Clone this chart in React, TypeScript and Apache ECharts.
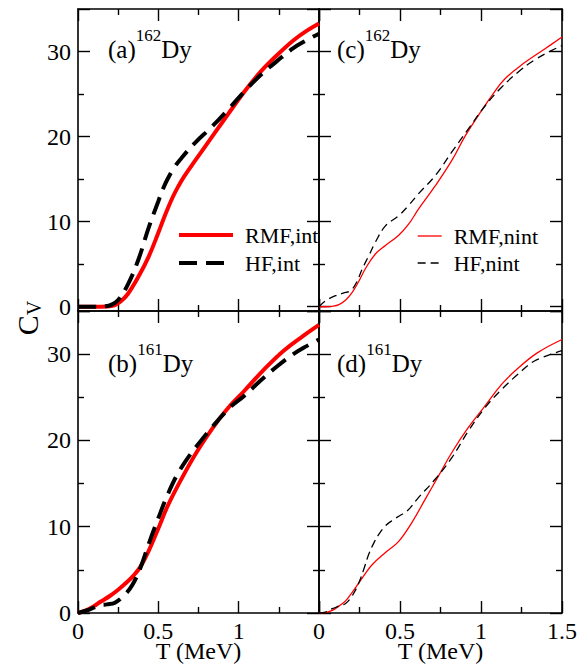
import React, { useEffect, useRef } from "react";
import * as echarts from "echarts";

// Heat capacity C_V versus temperature T (MeV) for 162Dy and 161Dy.
// (a),(b): with interaction; (c),(d): without interaction.

const T_A_RMF = [0, 0.1, 0.18, 0.23, 0.27, 0.31, 0.375, 0.44, 0.5, 0.53, 0.56, 0.59, 0.62, 0.66, 0.73, 0.85, 0.94, 1.04, 1.14, 1.24, 1.34, 1.42, 1.5];
const CV_A_RMF = [0, 0, 0.03, 0.2, 0.7, 1.5, 3.5, 5.9, 8.7, 10.2, 11.6, 12.9, 14.0, 15.3, 17.2, 20.4, 22.8, 25.4, 27.7, 29.6, 31.3, 32.4, 33.3];
const T_A_HF = [0, 0.1, 0.17, 0.21, 0.25, 0.31, 0.375, 0.44, 0.5, 0.53, 0.56, 0.6, 0.645, 0.73, 0.83, 0.94, 1.04, 1.14, 1.24, 1.34, 1.42, 1.5];
const CV_A_HF = [0, 0, 0.05, 0.25, 0.8, 2.6, 5.5, 9.3, 12.4, 13.9, 15.1, 16.4, 17.5, 19.3, 21.1, 23.3, 25.4, 27.3, 28.9, 30.4, 31.3, 32.1];

const T_B_RMF = [0, 0.05, 0.1, 0.14, 0.2, 0.25, 0.3, 0.344, 0.39, 0.44, 0.5, 0.558, 0.64, 0.744, 0.868, 0.95, 1.033, 1.157, 1.28, 1.4, 1.5];
const CV_B_RMF = [0, 0.3, 0.8, 1.3, 2.0, 2.7, 3.5, 4.3, 5.4, 7.2, 9.8, 12.4, 15.4, 18.8, 22.2, 24.1, 25.7, 28.2, 30.4, 32.1, 33.4];
const T_B_HF = [0, 0.07, 0.137, 0.18, 0.23, 0.29, 0.34, 0.39, 0.44, 0.5, 0.56, 0.62, 0.7, 0.78, 0.87, 0.95, 1.03, 1.14, 1.24, 1.34, 1.42, 1.5];
const CV_B_HF = [0, 0.4, 0.9, 1.0, 1.2, 2.1, 3.3, 5.3, 8.0, 11.0, 13.8, 16.1, 18.4, 20.3, 22.3, 23.9, 25.1, 27.0, 28.6, 30.0, 30.9, 31.7];

const T_C_RMF = [0, 0.04, 0.082, 0.123, 0.165, 0.205, 0.246, 0.287, 0.348, 0.41, 0.492, 0.553, 0.615, 0.717, 0.82, 0.9, 0.984, 1.066, 1.148, 1.27, 1.393, 1.5];
const CV_C_RMF = [0, 0, 0.05, 0.25, 0.8, 1.7, 3.0, 4.5, 6.2, 7.2, 8.4, 9.7, 11.5, 14.2, 17.2, 20.0, 22.5, 24.8, 26.8, 28.7, 30.3, 31.7];
const T_C_HF = [0, 0.041, 0.102, 0.15, 0.195, 0.23, 0.266, 0.31, 0.348, 0.41, 0.492, 0.553, 0.615, 0.717, 0.82, 0.922, 1.025, 1.127, 1.23, 1.33, 1.434, 1.5];
const CV_C_HF = [0, 0.7, 1.3, 1.6, 1.9, 2.8, 4.4, 6.1, 7.6, 9.5, 10.7, 11.9, 13.3, 15.4, 18.2, 20.9, 23.6, 25.8, 27.6, 29.0, 30.1, 30.7];

const T_D_RMF = [0, 0.04, 0.082, 0.123, 0.164, 0.205, 0.246, 0.287, 0.328, 0.41, 0.492, 0.574, 0.656, 0.738, 0.82, 0.922, 1.025, 1.127, 1.23, 1.352, 1.5];
const CV_D_RMF = [0, 0.05, 0.3, 0.8, 1.4, 2.4, 3.5, 4.6, 5.6, 7.0, 8.3, 10.5, 13.2, 15.9, 18.6, 21.5, 24.0, 26.5, 28.4, 30.2, 31.7];
const T_D_HF = [0, 0.04, 0.082, 0.123, 0.164, 0.205, 0.246, 0.277, 0.307, 0.338, 0.369, 0.41, 0.45, 0.5, 0.543, 0.615, 0.717, 0.82, 0.922, 1.025, 1.127, 1.23, 1.33, 1.5];
const CV_D_HF = [0, 0.1, 0.5, 0.8, 1.1, 2.0, 3.5, 5.1, 6.8, 8.1, 9.1, 10.1, 10.7, 11.3, 11.8, 13.4, 15.5, 18.0, 21.1, 23.8, 25.9, 27.7, 29.2, 30.4];

const PANEL_TAGS = ["(a)", "(b)", "(c)", "(d)"];
const PANEL_MASS = ["162", "161", "162", "161"];
const LEGEND_INT = ["RMF,int", "HF,int"];
const LEGEND_NINT = ["RMF,nint", "HF,nint"];
const X_NAME = "T (MeV)";

const FONT = "'Liberation Serif', 'Times New Roman', Times, serif";

const zip = (xs: number[], ys: number[]) => xs.map((x, i) => [x, ys[i]]);

// grid layout: a (top-left), b (bottom-left), c (top-right), d (bottom-right)
const GRIDS = [
  { left: 78, top: 9, width: 241, height: 302, ymin: -0.5, bottomRow: false, leftCol: true },
  { left: 78, top: 311, width: 241, height: 302, ymin: 0, bottomRow: true, leftCol: true },
  { left: 319, top: 9, width: 243, height: 302, ymin: -0.5, bottomRow: false, leftCol: false },
  { left: 319, top: 311, width: 243, height: 302, ymin: 0, bottomRow: true, leftCol: false },
];

const LABEL_POS = [
  { x: 108, y: 27 },
  { x: 108, y: 341 },
  { x: 337, y: 27 },
  { x: 337, y: 341 },
];

const lineCol = { color: "#000", width: 1.6 };
const tickCol = { color: "#000", width: 1.4 };

export default function App() {
  const ref = useRef<HTMLDivElement>(null);

  useEffect(() => {
    if (!ref.current) return;
    const chart = echarts.init(ref.current, undefined, { renderer: "svg" });

    const grid = GRIDS.map((g) => ({
      left: g.left,
      top: g.top,
      width: g.width,
      height: g.height,
      containLabel: false,
      outerBoundsMode: "none",
    }));

    const xAxis: any[] = [];
    const yAxis: any[] = [];
    GRIDS.forEach((g, i) => {
      const common = {
        gridIndex: i,
        type: "value",
        min: 0,
        max: 1.5,
        interval: 0.5,
        axisLine: { show: true, onZero: false, lineStyle: lineCol },
        axisTick: { show: true, inside: true, length: 12, lineStyle: tickCol },
        minorTick: { show: true, splitNumber: 2, length: 6, lineStyle: tickCol },
        splitLine: { show: false },
        minorSplitLine: { show: false },
      };
      xAxis.push({
        ...common,
        position: "bottom",
        axisLabel: {
          show: g.bottomRow,
          fontFamily: FONT,
          fontSize: 24,
          lineHeight: 16,
          color: "#000",
          margin: 10,
          showMaxLabel: g.leftCol ? false : true,
          formatter: (v: number) => String(v),
        },
        name: g.bottomRow ? X_NAME : "",
        nameLocation: "middle",
        nameGap: 27,
        nameMoveOverlap: false,
        nameTextStyle: { fontFamily: FONT, fontSize: 24, color: "#000", lineHeight: 22 },
      });
      xAxis.push({ ...common, position: "top", axisLabel: { show: false } });

      const ycommon: any = {
        gridIndex: i,
        type: "value",
        min: g.ymin,
        max: 35,
        splitNumber: 4,
        axisLine: { show: true, onZero: false, lineStyle: lineCol },
        axisTick: { show: true, inside: true, length: 12, lineStyle: tickCol },
        minorTick: { show: true, splitNumber: 2, length: 6, lineStyle: tickCol },
        splitLine: { show: false },
        minorSplitLine: { show: false },
      };
      if (g.ymin === 0) ycommon.interval = 10;
      yAxis.push({
        ...ycommon,
        position: "left",
        axisLabel: {
          show: g.leftCol,
          fontFamily: FONT,
          fontSize: 24,
          color: "#000",
          margin: 7,
          showMinLabel: g.ymin === 0,
          showMaxLabel: false,
          formatter: (v: number) => String(v),
        },
      });
      yAxis.push({ ...ycommon, position: "right", axisLabel: { show: false } });
    });

    const thick = 4;
    const thin = 1.3;
    const mk = (name: string, panel: number, xs: number[], ys: number[], red: boolean, width: number, dash: number[]) => ({
      type: "line",
      name,
      xAxisIndex: panel * 2,
      yAxisIndex: panel * 2,
      data: zip(xs, ys),
      smooth: 0.4,
      symbol: "none",
      showSymbol: false,
      clip: true,
      z: red ? 2 : 3,
      itemStyle: { color: red ? "#ff0000" : "#000000" },
      lineStyle: {
        color: red ? "#ff0000" : "#000000",
        width,
        type: red ? "solid" : dash,
        cap: "butt",
      },
    });

    const series = [
      mk(LEGEND_INT[0], 0, T_A_RMF, CV_A_RMF, true, thick, []),
      mk(LEGEND_INT[1], 0, T_A_HF, CV_A_HF, false, thick, [18, 9]),
      mk(LEGEND_INT[0], 1, T_B_RMF, CV_B_RMF, true, thick, []),
      mk(LEGEND_INT[1], 1, T_B_HF, CV_B_HF, false, thick, [18, 9]),
      mk(LEGEND_NINT[0], 2, T_C_RMF, CV_C_RMF, true, thin, []),
      mk(LEGEND_NINT[1], 2, T_C_HF, CV_C_HF, false, thin, [8, 5]),
      mk(LEGEND_NINT[0], 3, T_D_RMF, CV_D_RMF, true, thin, []),
      mk(LEGEND_NINT[1], 3, T_D_HF, CV_D_HF, false, thin, [8, 5]),
    ];

    const legendText = { fontFamily: FONT, fontSize: 22, color: "#000", padding: [0, 0, 0, 7] };
    const legend = [
      {
        data: LEGEND_INT,
        left: 177,
        top: 224,
        orient: "vertical",
        itemWidth: 54,
        itemHeight: 20,
        itemGap: 6,
        padding: 0,
        selectedMode: false,
        itemStyle: { opacity: 0 },
        lineStyle: { width: thick },
        textStyle: legendText,
      },
      {
        data: LEGEND_NINT,
        left: 417,
        top: 225,
        orient: "vertical",
        itemWidth: 24,
        itemHeight: 20,
        itemGap: 5,
        padding: 0,
        selectedMode: false,
        itemStyle: { opacity: 0 },
        lineStyle: { width: thin },
        textStyle: legendText,
      },
    ];

    const graphic: any[] = PANEL_TAGS.map((tag, i) => ({
      type: "text",
      x: LABEL_POS[i].x,
      y: LABEL_POS[i].y,
      z: 10,
      style: {
        text: `{n|${tag}}{s|${PANEL_MASS[i]}}{n|Dy}`,
        align: "left",
        verticalAlign: "top",
        fill: "#000",
        rich: {
          n: { fontFamily: FONT, fontSize: 25, lineHeight: 44, fill: "#000" },
          s: { fontFamily: FONT, fontSize: 17, lineHeight: 17, verticalAlign: "top", fill: "#000" },
        },
      },
    }));

    // rotated y-axis title C_V
    graphic.push({
      type: "text",
      x: 27,
      y: 318,
      rotation: Math.PI / 2,
      z: 10,
      style: {
        text: "{c|C}{v|V}",
        align: "center",
        verticalAlign: "middle",
        fill: "#000",
        rich: {
          c: { fontFamily: FONT, fontSize: 30, lineHeight: 34, fill: "#000" },
          v: { fontFamily: FONT, fontSize: 20, lineHeight: 20, verticalAlign: "bottom", fill: "#000" },
        },
      },
    });

    chart.setOption({
      animation: false,
      backgroundColor: "#ffffff",
      textStyle: { fontFamily: FONT },
      grid,
      xAxis,
      yAxis,
      series,
      legend,
      graphic,
    });

    return () => chart.dispose();
  }, []);

  return (
    <div
      ref={ref}
      style={{ position: "fixed", left: 0, top: 0, width: 579, height: 664, background: "#fff" }}
    />
  );
}
